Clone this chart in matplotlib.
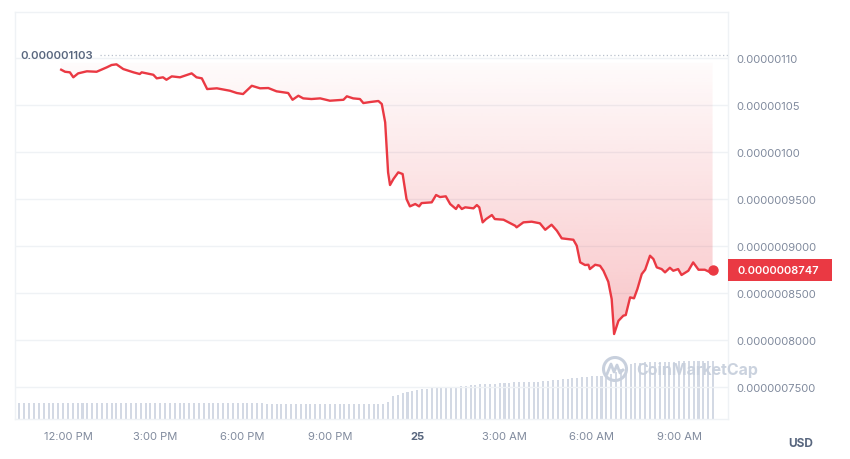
import numpy as np
import pandas as pd
import matplotlib
matplotlib.use("Agg")
import matplotlib.pyplot as plt
from matplotlib.patches import Rectangle, Circle
from matplotlib.lines import Line2D
from matplotlib.transforms import blended_transform_factory, IdentityTransform

plt.rcParams['font.family'] = ['Inter', 'DejaVu Sans']

# ---------------- data ----------------
price_times = [
    "24 11:46", "24 11:54", "24 12:04", "24 12:11", "24 12:21", "24 12:39", "24 12:59", "24 13:20",
    "24 13:30", "24 13:40", "24 13:54", "24 14:15", "24 14:28", "24 14:32", "24 14:56", "24 15:03",
    "24 15:16", "24 15:23", "24 15:34", "24 15:51", "24 16:15", "24 16:25", "24 16:36", "24 16:47",
    "24 17:07", "24 17:34", "24 17:48", "24 18:01", "24 18:19", "24 18:36", "24 18:53", "24 19:10",
    "24 19:34", "24 19:43", "24 19:55", "24 20:05", "24 20:22", "24 20:40", "24 21:00", "24 21:28",
    "24 21:35", "24 21:48", "24 22:02", "24 22:09", "24 22:23", "24 22:40", "24 22:47", "24 22:54",
    "24 23:00", "24 23:04", "24 23:11", "24 23:21", "24 23:30", "24 23:38", "24 23:45", "24 23:56",
    "25 00:04", "25 00:09", "25 00:30", "25 00:39", "25 00:47", "25 00:59", "25 01:08", "25 01:20",
    "25 01:25", "25 01:32", "25 01:39", "25 01:56", "25 02:03", "25 02:08", "25 02:15", "25 02:22",
    "25 02:34", "25 02:40", "25 02:58", "25 03:22", "25 03:25", "25 03:39", "25 03:56", "25 04:13",
    "25 04:24", "25 04:37", "25 04:48", "25 04:58", "25 05:22", "25 05:29", "25 05:36", "25 05:46",
    "25 05:53", "25 05:56", "25 06:07", "25 06:17", "25 06:24", "25 06:34", "25 06:41", "25 06:46",
    "25 06:55", "25 07:05", "25 07:10", "25 07:19", "25 07:27", "25 07:34", "25 07:43", "25 07:50",
    "25 08:00", "25 08:07", "25 08:14", "25 08:24", "25 08:31", "25 08:41", "25 08:48", "25 08:58",
    "25 09:05", "25 09:19", "25 09:29", "25 09:40", "25 09:53", "25 10:07", "25 10:09",
]
# price in units of 1e-9 USD
price_nusd = [
    1087.6, 1085.4, 1084.8, 1079.5, 1083.7, 1085.9, 1085.4, 1090.1,
    1092.6, 1093.3, 1088.3, 1084.8, 1083.0, 1084.8, 1082.2, 1078.4,
    1079.5, 1076.9, 1080.5, 1079.5, 1083.7, 1079.5, 1078.4, 1067.0,
    1067.8, 1065.2, 1062.8, 1061.7, 1070.5, 1067.8, 1068.1, 1064.6,
    1062.8, 1055.6, 1059.9, 1057.1, 1056.4, 1057.1, 1054.6, 1055.6,
    1059.3, 1057.1, 1056.4, 1052.1, 1053.2, 1054.3, 1051.1, 1031.6,
    978.4, 964.9, 971.3, 978.4, 976.6, 950.0, 942.2, 944.7,
    942.2, 945.7, 946.5, 954.3, 952.1, 952.9, 944.7, 939.4,
    943.6, 939.4, 941.2, 940.1, 943.6, 941.2, 925.2, 928.7,
    933.0, 928.7, 928.0, 921.6, 919.9, 925.2, 925.9, 924.2,
    917.3, 922.7, 916.3, 908.2, 906.7, 900.3, 882.7, 879.8,
    880.1, 875.5, 880.1, 879.0, 873.7, 862.0, 843.6, 806.4,
    820.5, 825.9, 826.6, 845.4, 844.4, 854.3, 870.2, 874.8,
    889.7, 886.2, 877.3, 875.5, 872.0, 876.9, 873.7, 875.5,
    869.2, 873.7, 882.6, 874.8, 874.8, 871.4, 874.7,
]

# volume bars, one every 10 minutes starting at 24 10:10 (relative heights)
vol_start = "24 10:10"
vol_step_min = 10
volume = [
    16.5, 16.5, 16.5, 16.5, 16.5, 16.5, 16.5, 16.5, 16.5, 16.5,
    16.5, 16.5, 16.5, 16.5, 16.5, 16.5, 16.5, 16.5, 16.5, 16.5,
    16.5, 16.5, 16.5, 16.5, 16.5, 16.5, 16.5, 16.5, 16.0, 16.0,
    16.0, 16.0, 16.0, 16.0, 16.0, 16.0, 16.0, 16.0, 16.0, 16.0,
    16.0, 16.0, 16.0, 16.0, 16.0, 16.0, 16.0, 16.0, 16.0, 16.0,
    16.0, 16.0, 15.5, 15.5, 15.5, 15.5, 15.5, 15.5, 15.5, 15.5,
    15.5, 15.5, 15.5, 15.5, 15.5, 15.5, 15.5, 15.5, 15.5, 15.5,
    15.5, 15.5, 15.5, 15.5, 15.5, 15.5, 15.5,
    17.5, 23.0, 24.5, 26.0, 27.0, 28.0, 29.5, 30.0, 30.5, 31.0,
    31.0, 31.5, 32.0, 32.0, 32.5, 33.0, 33.5, 34.0, 34.5, 35.0,
    35.0, 35.5, 35.5, 36.0, 36.0, 36.5, 37.0, 37.0, 37.0, 37.5,
    37.5, 37.5, 38.0, 38.5, 39.0, 39.5, 40.0, 40.5, 41.0, 41.5,
    42.0, 42.5, 43.0, 43.0, 43.5, 44.0, 45.0, 47.0, 50.0, 53.0,
    55.0, 56.0, 56.5,
    57.0, 57.0, 57.0, 57.5, 57.5, 57.5, 57.5, 58.0, 58.0, 58.0,
    58.0, 58.5, 58.5, 58.5, 58.5,
]

xtick_hours = [0, 3, 6, 9, 12, 15, 18, 21]
xtick_labels = ["12:00 PM", "3:00 PM", "6:00 PM", "9:00 PM", "25", "3:00 AM", "6:00 AM", "9:00 AM"]
ytick_values = [0.75e-6, 0.80e-6, 0.85e-6, 0.90e-6, 0.95e-6, 1.00e-6, 1.05e-6, 1.10e-6]
ytick_labels = ["0.0000007500", "0.0000008000", "0.0000008500", "0.0000009000",
                "0.0000009500", "0.00000100", "0.00000105", "0.00000110"]
high_value = 1.103e-6
high_label = "0.000001103"
open_baseline = 1.095e-6
last_label = "0.0000008747"
currency = "USD"
watermark = "CoinMarketCap"

# ---------------- helpers ----------------
def to_hours(s):
    d, hm = s.split()
    h, m = hm.split(":")
    return (int(d) - 24) * 24 + int(h) + int(m) / 60.0 - 12.0

x = np.array([to_hours(t) for t in price_times])
price = np.array(price_nusd) * 1e-9
vx = to_hours(vol_start) + np.arange(len(volume)) * vol_step_min / 60.0
vol = np.array(volume)

RED = "#ea3943"
GRAY = "#808a9d"
DARK = "#58667e"
GRID = "#eff2f5"
BAR = "#d3d9e4"

W, H = 850, 460
fig = plt.figure(figsize=(W / 100, H / 100), dpi=100)
fig.patch.set_facecolor("white")
L, B, AW, AH = 15, 40, 712.7, 407.3
pos = [L / W, B / H, AW / W, AH / H]
XLIM = (-1.82, 22.67)
YLIM = (0.716e-6, 1.1493e-6)

# volume axes (behind)
axv = fig.add_axes(pos, zorder=0)
axv.bar(vx, vol, width=0.07, color=BAR, linewidth=0)
axv.set_xlim(*XLIM)
axv.set_ylim(0, AH)
axv.axis("off")

# price axes
ax = fig.add_axes(pos, zorder=1)
ax.patch.set_alpha(0)
ax.set_xlim(*XLIM)
ax.set_ylim(*YLIM)

for side in ["left", "top", "right", "bottom"]:
    ax.spines[side].set_color(GRID)
    ax.spines[side].set_linewidth(1.0)

ax.yaxis.tick_right()
ax.set_yticks(ytick_values)
ax.set_yticklabels(ytick_labels, fontsize=8, color=GRAY)
ax.set_xticks(xtick_hours)
ax.set_xticklabels(xtick_labels, fontsize=8, color=GRAY)
ax.get_xticklabels()[4].set_fontweight("bold")
ax.get_xticklabels()[4].set_color("#58667e")
ax.tick_params(axis="y", length=0, pad=6.5)
ax.tick_params(axis="x", length=0, pad=9)
ax.grid(axis="y", color=GRID, linewidth=1.0)
ax.set_axisbelow(True)

# gradient fill between price and baseline
poly = ax.fill_between(x, price, open_baseline, color="none", linewidth=0)
rgb = matplotlib.colors.to_rgb(RED)
grad = np.zeros((256, 1, 4))
grad[:, 0, 0], grad[:, 0, 1], grad[:, 0, 2] = rgb
grad[:, 0, 3] = np.linspace(0.30, 0.02, 256)
im = ax.imshow(grad, extent=[x.min(), x.max(), 0.80e-6, open_baseline],
               origin="lower", aspect="auto", zorder=1, interpolation="bilinear")
im.set_clip_path(poly.get_paths()[0], transform=ax.transData)
ax.set_xlim(*XLIM)
ax.set_ylim(*YLIM)

# price line and end dot
ax.plot(x, price, color=RED, linewidth=1.7, zorder=3, solid_joinstyle="round")
ax.plot(x[-1], price[-1], "o", color=RED, markersize=6.5, zorder=4)

# dotted high line + label
blend = blended_transform_factory(ax.transAxes, ax.transData)
ax.axhline(high_value, xmin=(100 - L) / AW, xmax=1.0, color="#b9c0cc",
           linewidth=0.9, linestyle=(0, (1, 2)), zorder=2)
ax.text(5 / AW, high_value, high_label, transform=blend, ha="left", va="center",
        fontsize=8.2, color=DARK, fontweight="semibold", zorder=5)

# last price tag
box_h = 21.7 * (YLIM[1] - YLIM[0]) / AH
ax.add_patch(Rectangle((1.0, price[-1] - box_h / 2), 104 / AW, box_h, transform=blend,
                       clip_on=False, facecolor=RED, edgecolor="none", zorder=5))
ax.text(1.0 + 9.5 / AW, price[-1], last_label, transform=blend, ha="left", va="center",
        fontsize=8, color="white", fontweight="semibold", zorder=6, clip_on=False)

# currency label
fig.text(801 / W, 1 - 444 / H, currency, ha="center", va="center", fontsize=8.5,
         fontweight="bold", color=DARK)

# watermark
WM = "#c8d0dd"
fig.text(636 / W, 1 - 370 / H, watermark, ha="left", va="center", fontsize=11.5,
         fontweight="bold", color=WM, alpha=0.95, zorder=10)
cx, cy = 615, H - 370
fig.add_artist(Circle((cx, cy), 11.5, transform=IdentityTransform(), fill=False,
                      edgecolor=WM, linewidth=2.2, zorder=10))
fig.add_artist(Line2D([cx - 8, cx - 4, cx - 1, cx + 2, cx + 5, cx + 8],
                      [cy - 5, cy + 5, cy - 3, cy + 4, cy - 4, cy - 1],
                      transform=IdentityTransform(), color=WM, linewidth=2.0, zorder=10))

fig.savefig("out.png", dpi=100)
